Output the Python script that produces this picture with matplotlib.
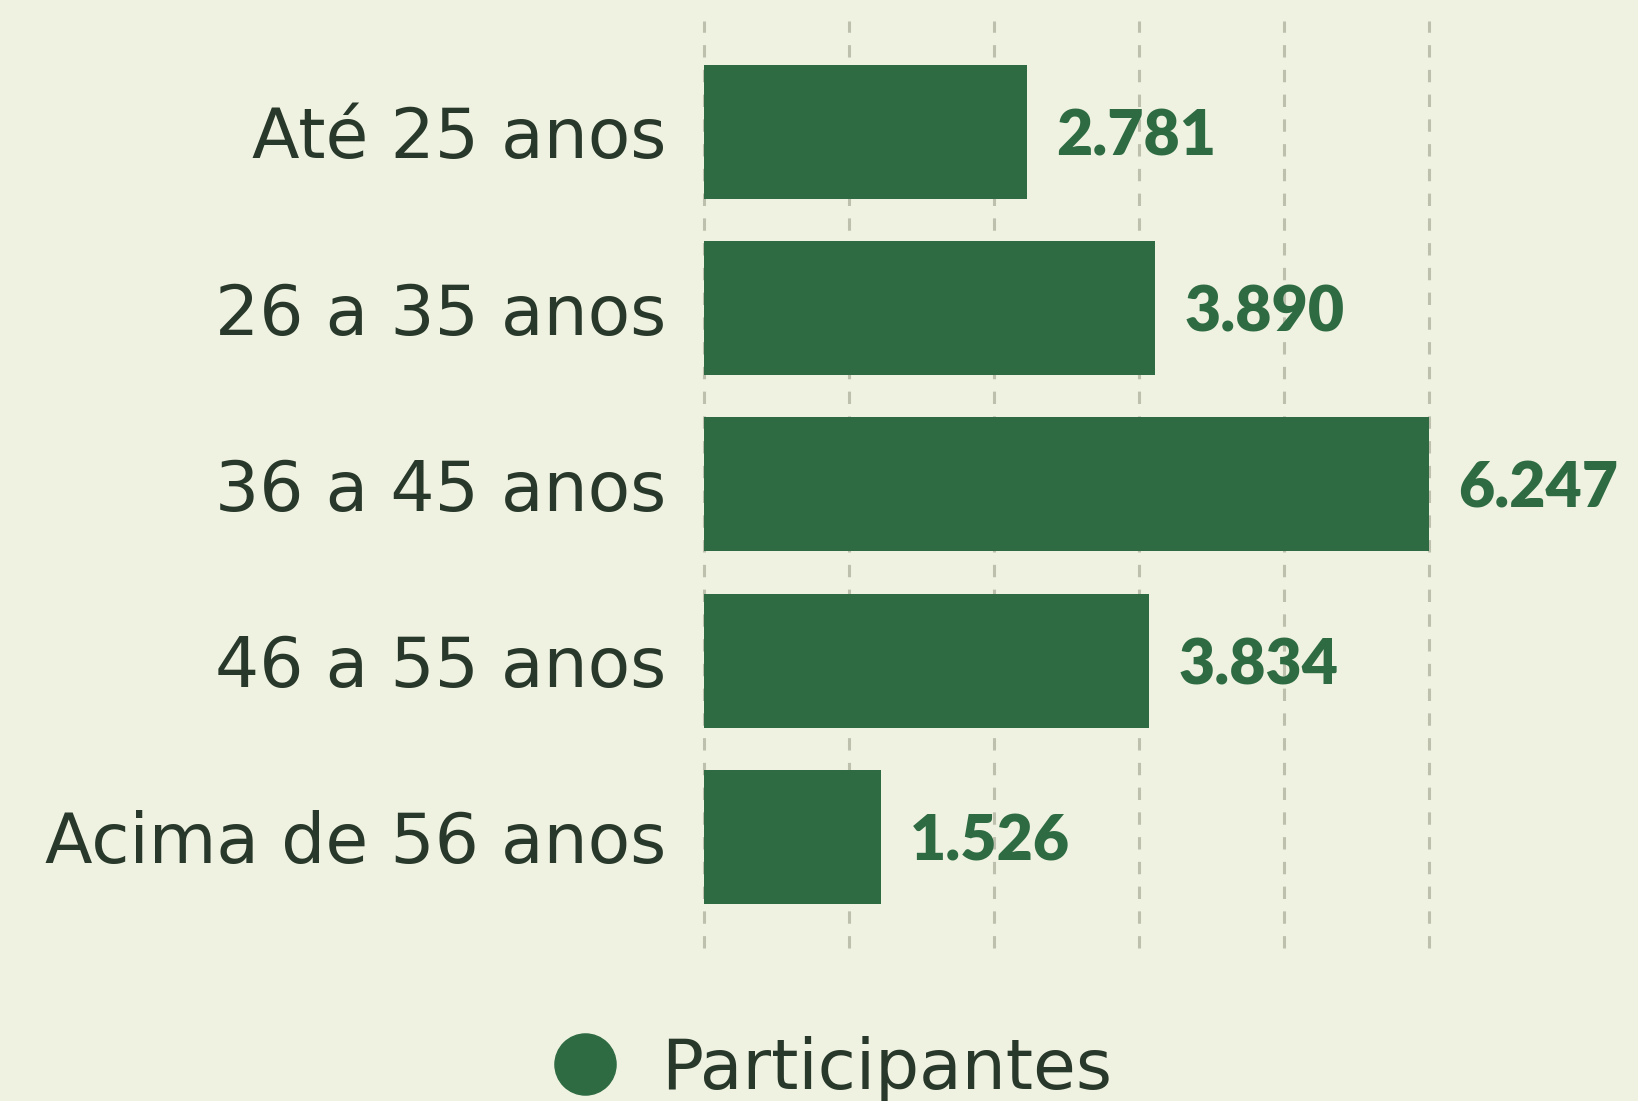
import matplotlib
matplotlib.use("Agg")
import matplotlib.pyplot as plt
from matplotlib.lines import Line2D

categories = ["Até 25 anos", "26 a 35 anos", "36 a 45 anos", "46 a 55 anos", "Acima de 56 anos"]
participantes = [2781, 3890, 6247, 3834, 1526]
series_label = "Participantes"

bg = "#eff2e0"
bar_color = "#2e6b43"
text_color = "#28382a"
grid_color = "#bcc0ad"

fig = plt.figure(figsize=(16.38, 11.01), dpi=100, facecolor=bg)
ax = fig.add_axes([0.4298, 0.139, 0.8724 - 0.4298, 0.981 - 0.139])
ax.set_facecolor(bg)

y = list(range(len(categories)))
ax.barh(y, participantes, height=0.76, color=bar_color, zorder=3)

vmax = max(participantes)
ax.set_xlim(0, vmax)
ax.set_ylim(len(categories) - 0.37, -0.63)

# five equal grid divisions up to the largest bar
ax.set_xticks([vmax * k / 5 for k in range(6)])
ax.xaxis.grid(True, color=grid_color, linewidth=2.2, linestyle=(0, (4.05, 4.05)), zorder=0)
for gl in ax.get_xgridlines():
    gl.set_clip_on(False)
ax.tick_params(axis="x", length=0, labelbottom=False)

ax.set_yticks(y)
ax.set_yticklabels(categories, fontsize=50, color=text_color, family="DejaVu Sans")
ax.tick_params(axis="y", length=0, pad=27)

for s in ax.spines.values():
    s.set_visible(False)

for i, v in enumerate(participantes):
    ax.annotate(f"{v:,}".replace(",", "."), xy=(v, i), xytext=(21, -3.5),
                textcoords="offset points", va="center", ha="left",
                fontsize=45, fontweight="heavy", color=bar_color, family="Lato")

handle = Line2D([], [], linestyle="none", marker="o", markersize=44,
                markerfacecolor=bar_color, markeredgecolor=bar_color)
fig.legend([handle], [series_label], loc="center", bbox_to_anchor=(0.5055, 0.029),
           frameon=False, prop={"family": "DejaVu Sans", "size": 50},
           labelcolor=text_color, handletextpad=0.5, handlelength=1.2)

fig.savefig("out.png", dpi=100, facecolor=bg)
